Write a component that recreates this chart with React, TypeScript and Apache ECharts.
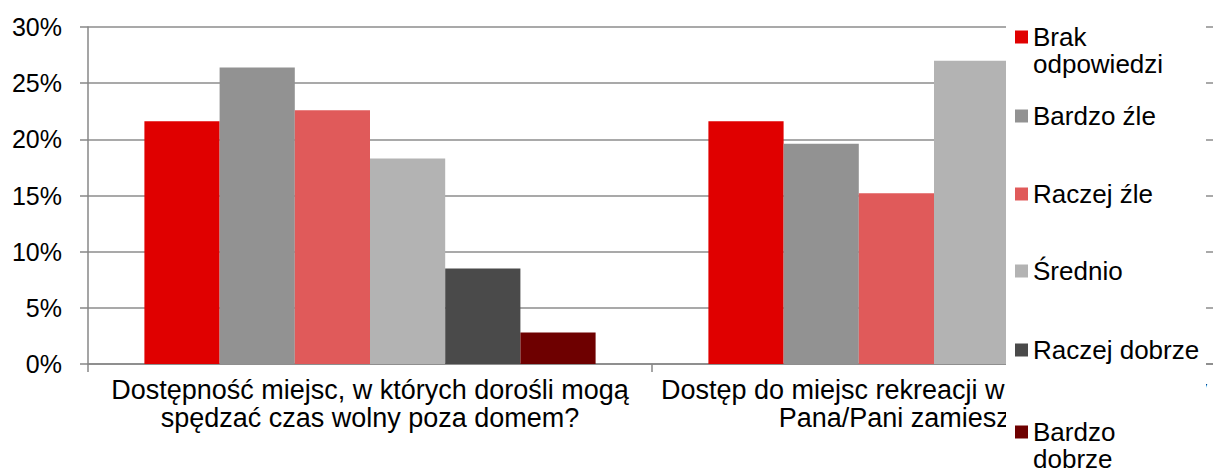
import React, { useEffect, useRef } from "react";
import * as echarts from "echarts";

const categories = [
  "Dostępność miejsc, w których dorośli mogą\nspędzać czas wolny poza domem?",
  "Dostęp do miejsc rekreacji w miejscu i okolicy\nPana/Pani zamieszkania?",
];
const seriesNames = ["Brak odpowiedzi", "Bardzo źle", "Raczej źle", "Średnio", "Raczej dobrze", "Bardzo dobrze"];
const legendFirstLines = ["Brak", "Bardzo źle", "Raczej źle", "Średnio", "Raczej dobrze", "Bardzo"];
const legendSecondLines = ["odpowiedzi", "", "", "", "", "dobrze"];
const brakOdpowiedzi = [21.6, 21.6];
const bardzoZle = [26.4, 19.6];
const raczejZle = [22.6, 15.2];
const srednio = [18.3, 27.0];
const raczejDobrze = [8.5, 12.4];
const bardzoDobrze = [2.8, 4.2];
const seriesValues = [brakOdpowiedzi, bardzoZle, raczejZle, srednio, raczejDobrze, bardzoDobrze];
const colors = ["#E00000", "#929292", "#E05A5A", "#B3B3B3", "#4A4A4A", "#6E0000"];
const legendCenters = [37, 116, 194, 271, 350, 432];

const FONT = "'Liberation Sans', Arial, sans-serif";
const LEGEND_LINE = 27;

export default function App() {
  const ref = useRef<HTMLDivElement>(null);
  useEffect(() => {
    if (!ref.current) return;
    const chart = echarts.init(ref.current, undefined, { renderer: "svg" });
    const legends = seriesNames.map((name, i) => ({
      data: [name],
      orient: "vertical",
      left: 1015,
      top: legendCenters[i] - LEGEND_LINE / 2,
      padding: 0,
      itemWidth: 13,
      itemHeight: 13,
      itemGap: 0,
      icon: "rect",
      selectedMode: false,
      formatter: () => legendFirstLines[i],
      textStyle: {
        fontFamily: FONT,
        fontSize: 26,
        color: "#000",
        lineHeight: LEGEND_LINE,
      },
    }));
    const secondLineTexts = legendSecondLines
      .map((t, i) => ({ t, i }))
      .filter((o) => o.t)
      .map((o) => ({
        type: "text",
        x: 1033,
        y: legendCenters[o.i] + LEGEND_LINE,
        z: 5,
        silent: true,
        style: {
          text: o.t,
          fontFamily: FONT,
          fontSize: 26,
          fill: "#000",
          verticalAlign: "middle",
          align: "left",
        },
      }));
    chart.setOption({
      animation: false,
      textStyle: { fontFamily: FONT },
      grid: { left: 88, top: 27, width: 1128, height: 337, containLabel: false },
      legend: legends,
      xAxis: {
        type: "category",
        data: categories,
        axisLine: { lineStyle: { color: "#878787", width: 1.5 } },
        axisTick: { show: true, length: 8, lineStyle: { color: "#878787", width: 1.5 } },
        axisLabel: {
          interval: 0,
          margin: 12,
          fontSize: 27,
          lineHeight: 28,
          color: "#000",
          fontFamily: FONT,
          align: "center",
        },
      },
      yAxis: {
        type: "value",
        min: 0,
        max: 30,
        interval: 5,
        axisLine: { show: true, lineStyle: { color: "#878787", width: 1.5 } },
        axisTick: { show: true, length: 8, lineStyle: { color: "#878787", width: 1.5 } },
        splitLine: { show: true, lineStyle: { color: "#8c8c8c", width: 1.5 } },
        axisLabel: {
          formatter: "{value}%",
          margin: 26,
          fontSize: 25,
          color: "#000",
          fontFamily: FONT,
        },
      },
      series: seriesNames.map((name, i) => ({
        name,
        type: "bar",
        data: seriesValues[i],
        barGap: "0%",
        barCategoryGap: "20%",
        itemStyle: { color: colors[i] },
        emphasis: { disabled: true },
      })),
      graphic: {
        elements: [
          {
            type: "rect",
            left: 1006,
            top: 0,
            z: 3,
            silent: true,
            shape: { width: 200, height: 470 },
            style: { fill: "#ffffff" },
          },
          ...secondLineTexts,
        ],
      },
    });
    return () => chart.dispose();
  }, []);
  return (
    <div style={{ position: "fixed", left: 0, top: 0, width: 1213, height: 470, overflow: "hidden", background: "#fff" }}>
      <div ref={ref} style={{ width: 1240, height: 470 }} />
    </div>
  );
}
